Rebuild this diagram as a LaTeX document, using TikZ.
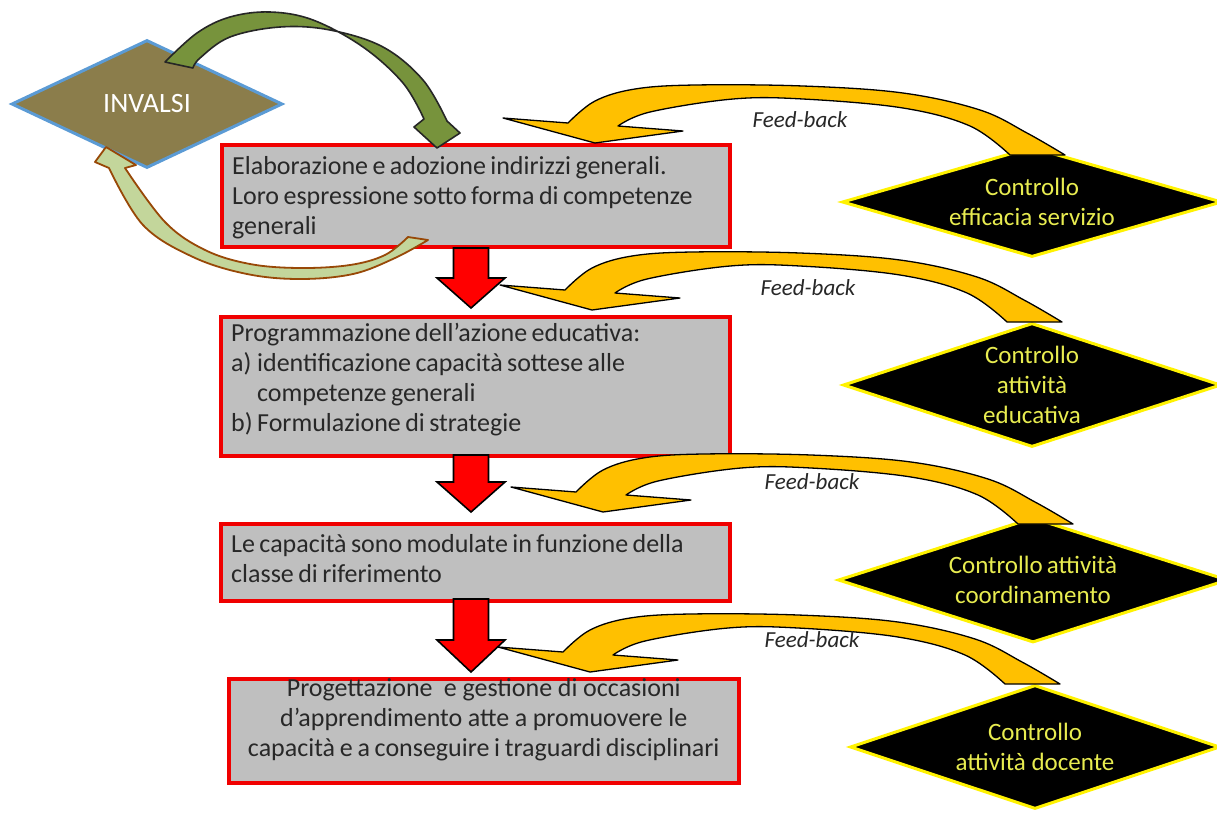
\documentclass[tikz,border=0pt]{standalone}
\usepackage{fontspec}
\setmainfont{Carlito}
\usetikzlibrary{shapes.geometric,calc}
\definecolor{boxgray}{RGB}{191,191,191}
\definecolor{boxred}{RGB}{240,0,0}
\definecolor{txtgray}{RGB}{40,40,40}
\definecolor{fbyellow}{RGB}{255,192,0}
\definecolor{dtext}{RGB}{232,236,80}
\definecolor{invfill}{RGB}{139,125,75}
\definecolor{invblue}{RGB}{91,155,213}
\definecolor{dkgreen}{RGB}{119,147,60}
\definecolor{ltgreen}{RGB}{195,214,155}
\definecolor{brownline}{RGB}{152,72,7}
\newcommand{\tightsp}{\spaceskip=0.17em plus 0.05em\relax}
\newcommand{\fbshape}{%
  \filldraw[fbarrow] plot[smooth,tension=0.6] coordinates {(470,12) (432,-10) (385,-33) (308,-50) (208,-57) (100,-58) (40,-54) (0,-42) (-27,-20)}
    -- (-92,-25) -- (0,0) -- (88,-12)
    -- plot[smooth,tension=0.6] coordinates {(23,-17) (55,-31) (138,-44) (208,-44) (308,-35) (375,-17) (415,12)} -- cycle;}
\newcommand{\redarrow}[3]{%
  \filldraw[redarr] (453.5,#1) -- (488.5,#1) -- (488.5,#2) -- (505,#2) -- (471,#3) -- (437,#2) -- (453.5,#2) -- cycle;}
\begin{document}
\begin{tikzpicture}[x=1pt,y=-1pt,
  stepbox/.style={draw=boxred, line width=3.5pt, fill=boxgray, anchor=north west, inner sep=0pt},
  boxtext/.style={text=txtgray, font=\fontsize{26}{30}\selectfont, inner sep=0pt, align=left, text width=496pt, anchor=base west},
  ctrl/.style={shape=diamond, fill=black, draw=yellow, line width=3pt, text=dtext, font=\fontsize{25}{30}\selectfont, align=center, inner sep=0pt},
  fbarrow/.style={fill=fbyellow, draw=black, line width=1.3pt, line join=round},
  redarr/.style={fill=red, draw=black, line width=1.6pt, line join=miter},
  fblabel/.style={font=\fontsize{23}{28}\selectfont\itshape, text=txtgray, inner sep=0pt}
]
\useasboundingbox[fill=white] (0,0) rectangle (1217,812);

% process boxes
\node[stepbox, minimum width=508pt, minimum height=102pt] (b1) at (220,143) {};
\node[stepbox, minimum width=509pt, minimum height=139pt] (b2) at (219,315) {};
\node[stepbox, minimum width=509pt, minimum height=77pt] (b3) at (219,522) {};
\node[stepbox, minimum width=510pt, minimum height=104pt] (b4) at (227,677) {};

\node[boxtext] (t1) at ($(b1.north west)+(12,31)$) {\tightsp Elaborazione e adozione indirizzi generali.\\Loro espressione sotto forma di competenze\\generali};
\node[boxtext] (t2) at ($(b2.north west)+(12,26)$) {\tightsp Programmazione dell’azione educativa:\\\makebox[26pt][l]{a)}identificazione capacità sottese alle\\\hspace*{26pt}competenze generali\\\makebox[26pt][l]{b)}Formulazione di strategie};
\node[boxtext] (t3) at ($(b3.north west)+(12,30)$) {\tightsp Le capacità sono modulate in funzione della\\classe di riferimento};
\node[boxtext, align=center, anchor=base] (t4) at ($(b4.north)+(0,19)$) {\tightsp Progettazione\ \ e gestione di occasioni\\d’apprendimento atte a promuovere le\\capacità e a conseguire i traguardi disciplinari};

% red arrows between boxes
\redarrow{248}{278}{308}
\redarrow{455}{482}{512}
\redarrow{599}{640}{672}

% control diamonds
\node[ctrl, aspect=3.45, minimum width=380pt, minimum height=110pt] (d1) at (1032,202) {\tightsp Controllo\\efficacia servizio};
\node[ctrl, aspect=3.05, minimum width=378pt, minimum height=124pt] (d2) at (1032,385) {Controllo\\attività\\educativa};
\node[ctrl, aspect=3.12, minimum width=390pt, minimum height=125pt] (d3) at (1033,580) {\tightsp Controllo attività\\coordinamento};
\node[ctrl, aspect=2.98, minimum width=370pt, minimum height=124pt] (d4) at (1035,747) {\tightsp Controllo\\attività docente};

% feedback arrows
\coordinate (f1) at (595,143);
\coordinate (f2) at (592,310);
\coordinate (f3) at (603,512);
\coordinate (f4) at (590,672);
\begin{scope}[shift={(f1)}]\fbshape\end{scope}
\begin{scope}[shift={(f2)}]\fbshape\end{scope}
\begin{scope}[shift={(f3)}]\fbshape\end{scope}
\begin{scope}[shift={(f4)}]\fbshape\end{scope}

\node[fblabel] (l1) at (800,120) {Feed-back};
\node[fblabel] (l2) at (808,288) {Feed-back};
\node[fblabel] (l3) at (812,482) {Feed-back};
\node[fblabel] (l4) at (812,640) {Feed-back};

% INVALSI
\node[shape=diamond, fill=invfill, draw=invblue, line width=3pt, aspect=2.1, minimum width=271pt, minimum height=128pt, inner sep=0pt, text=white, font=\fontsize{28}{30}\selectfont] (inv) at (147,104) {INVALSI};

% dark green arrow INVALSI -> box 1
\filldraw[fill=dkgreen, draw=black!85, line width=1.6pt, line join=round]
  plot[smooth,tension=0.6] coordinates {(165,62) (197,33) (230,17) (270,12) (313,20) (363,47) (403,83) (424,119)}
  -- (414,127) -- (437,148) -- (460,133) -- (447,121)
  -- plot[smooth,tension=0.6] coordinates {(447,121) (423,80) (383,47) (330,30) (280,27) (230,37) (200,58) (193,68)} -- cycle;

% light green arrow box 1 -> INVALSI
\filldraw[fill=ltgreen, draw=brownline, line width=1.8pt, line join=round]
  plot[smooth,tension=0.6] coordinates {(428,240) (395,258) (353,274) (300,279) (247,274) (193,257) (143,225) (109,168)}
  -- (95,162) -- (106,147) -- (136,165) -- (125,168)
  -- plot[smooth,tension=0.6] coordinates {(125,168) (165,222) (205,250) (250,264) (300,268) (350,265) (385,255) (408,237)} -- cycle;
\end{tikzpicture}
\end{document}
